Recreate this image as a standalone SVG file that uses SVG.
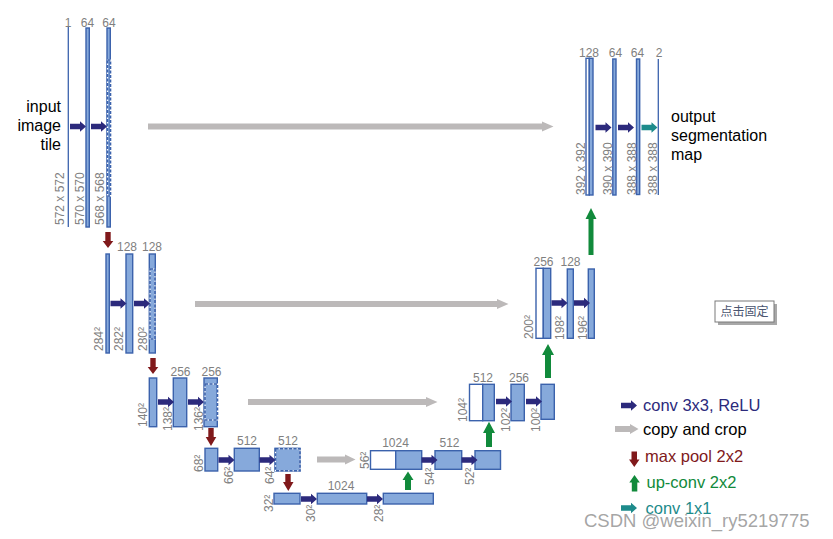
<svg xmlns="http://www.w3.org/2000/svg" xmlns:xlink="http://www.w3.org/1999/xlink" width="833" height="539" viewBox="0 0 833 539">
<style>
.bar{fill:#86a9db;stroke:#3b62ac;stroke-width:1.4}
.wbar{fill:#ffffff;stroke:#3b62ac;stroke-width:1.4}
.thin{stroke:#3b62ac;stroke-width:1.3;fill:none}
.dash{fill:none;stroke:#3b62ac;stroke-width:1.6;stroke-dasharray:3 1.5}
.dashbg{fill:none;stroke:#ffffff;stroke-width:1}
.lbl{font-family:"Liberation Sans",Arial,sans-serif;font-size:12px;fill:#808080;text-anchor:middle}
.rot{font-family:"Liberation Sans",Arial,sans-serif;font-size:12px;fill:#808080}
.big{font-family:"Liberation Sans",Arial,sans-serif;font-size:16px;fill:#000}
.leg{font-family:"Liberation Sans",Arial,sans-serif;font-size:16.5px}
.conv{fill:#2c2a7c}
.copy{fill:#bcb9b9}
.pool{fill:#80191b}
.up{fill:#118a3b}
.c11{fill:#1d8b8b}
</style>
<defs>
<path id="convA" d="M0,-2.7H10V-5.3L16,0L10,5.3V2.7H0Z"/>
<path id="poolA" d="M-2.7,0H2.7V9H5.3L0,16L-5.3,9H-2.7Z"/>
</defs>
<rect width="833" height="539" fill="#ffffff"/>

<!-- Level 1 contracting -->
<g id="l1-input">
<line class="thin" x1="68.3" y1="26" x2="68.3" y2="227"/>
<text class="lbl" x="68" y="27">1</text>
<text class="rot" transform="translate(64,225) rotate(-90)">572 x 572</text>
<text class="big" x="61" y="112" text-anchor="end">input</text>
<text class="big" x="61" y="131" text-anchor="end">image</text>
<text class="big" x="61" y="150" text-anchor="end">tile</text>
</g>
<g id="l1-c1">
<rect class="bar" x="86" y="28" width="3.3" height="199"/>
<text class="lbl" x="87.5" y="27">64</text>
<text class="rot" transform="translate(83.5,225) rotate(-90)">570 x 570</text>
</g>
<g id="l1-c2">
<rect class="bar" x="107" y="28" width="3.3" height="199"/>
<rect class="dashbg" x="107.5" y="60" width="3" height="136"/>
<rect class="dash" x="107.5" y="60" width="3" height="136"/>
<text class="lbl" x="109" y="27">64</text>
<text class="rot" transform="translate(103.5,225) rotate(-90)">568 x 568</text>
</g>

<!-- Level 2 contracting -->
<g id="l2-p">
<rect class="bar" x="106" y="254" width="3.3" height="99"/>
<text class="rot" transform="translate(103,351) rotate(-90)">284²</text>
</g>
<g id="l2-c1">
<rect class="bar" x="126" y="254" width="6.7" height="99"/>
<text class="lbl" x="127" y="251">128</text>
<text class="rot" transform="translate(123,351) rotate(-90)">282²</text>
</g>
<g id="l2-c2">
<rect class="bar" x="149.3" y="254" width="6" height="99"/>
<rect class="dashbg" x="150" y="269" width="5" height="70"/>
<rect class="dash" x="150" y="269" width="5" height="70"/>
<text class="lbl" x="152" y="251">128</text>
<text class="rot" transform="translate(147,351) rotate(-90)">280²</text>
</g>

<!-- Level 3 contracting -->
<g id="l3-p">
<rect class="bar" x="149.3" y="378" width="7.4" height="48.7"/>
<text class="rot" transform="translate(147,427) rotate(-90)">140²</text>
</g>
<g id="l3-c1">
<rect class="bar" x="173.3" y="378" width="13.4" height="48.7"/>
<text class="lbl" x="180.5" y="376">256</text>
<text class="rot" transform="translate(172,431) rotate(-90)">138²</text>
</g>
<g id="l3-c2">
<rect class="bar" x="204" y="378" width="13.3" height="48.7"/>
<rect class="dashbg" x="205" y="384" width="12.5" height="36"/>
<rect class="dash" x="205" y="384" width="12.5" height="36"/>
<text class="lbl" x="211.5" y="376">256</text>
<text class="rot" transform="translate(203,431) rotate(-90)">136²</text>
</g>

<!-- Level 4 contracting -->
<g id="l4-p">
<rect class="bar" x="205" y="448.3" width="12.7" height="22.7"/>
<text class="rot" transform="translate(203,472) rotate(-90)">68²</text>
</g>
<g id="l4-c1">
<rect class="bar" x="234.3" y="448.3" width="25" height="22.7"/>
<text class="lbl" x="247" y="445">512</text>
<text class="rot" transform="translate(233,484) rotate(-90)">66²</text>
</g>
<g id="l4-c2">
<rect class="bar" x="275" y="448.3" width="25" height="22.7"/>
<rect class="dashbg" x="275.5" y="448.8" width="24.5" height="22"/>
<rect class="dash" x="275.5" y="448.8" width="24.5" height="22"/>
<text class="lbl" x="288" y="445">512</text>
<text class="rot" transform="translate(274,484) rotate(-90)">64²</text>
</g>

<!-- Bottom -->
<g id="l5-p">
<rect class="bar" x="274" y="493.3" width="26" height="10.7"/>
<text class="rot" transform="translate(273,512) rotate(-90)">32²</text>
</g>
<g id="l5-c1">
<rect class="bar" x="317.3" y="493.3" width="49.4" height="10.7"/>
<text class="lbl" x="341" y="490">1024</text>
<text class="rot" transform="translate(315,522) rotate(-90)">30²</text>
</g>
<g id="l5-c2">
<rect class="bar" x="383.3" y="493.3" width="50" height="10.7"/>
<text class="rot" transform="translate(383,522) rotate(-90)">28²</text>
</g>

<!-- Level 4 expanding -->
<g id="l4-u">
<rect class="wbar" x="370.5" y="450.7" width="25.2" height="18.6"/>
<rect class="bar" x="395.7" y="450.7" width="26" height="18.6"/>
<text class="lbl" x="395.5" y="446.5">1024</text>
<text class="rot" transform="translate(369,469) rotate(-90)">56²</text>
</g>
<g id="l4-e1">
<rect class="bar" x="435" y="450.7" width="26.7" height="18.6"/>
<text class="lbl" x="449.5" y="446.5">512</text>
<text class="rot" transform="translate(434,485) rotate(-90)">54²</text>
</g>
<g id="l4-e2">
<rect class="bar" x="475" y="450.7" width="25.5" height="18.6"/>
<text class="rot" transform="translate(474,485) rotate(-90)">52²</text>
</g>

<!-- Level 3 expanding -->
<g id="l3-u">
<rect class="wbar" x="469.5" y="384.3" width="13.2" height="36.4"/>
<rect class="bar" x="482.7" y="384.3" width="11.6" height="36.4"/>
<text class="lbl" x="483" y="381.5">512</text>
<text class="rot" transform="translate(467,422) rotate(-90)">104²</text>
</g>
<g id="l3-e1">
<rect class="bar" x="511" y="384.3" width="13.3" height="36.4"/>
<text class="lbl" x="519" y="381.5">256</text>
<text class="rot" transform="translate(510,432) rotate(-90)">102²</text>
</g>
<g id="l3-e2">
<rect class="bar" x="541" y="384.3" width="13.3" height="35"/>
<text class="rot" transform="translate(540,432) rotate(-90)">100²</text>
</g>

<!-- Level 2 expanding -->
<g id="l2-u">
<rect class="wbar" x="536" y="268.3" width="7.3" height="70"/>
<rect class="bar" x="543.3" y="268.3" width="7.4" height="70"/>
<text class="lbl" x="543.5" y="266">256</text>
<text class="rot" transform="translate(533,339) rotate(-90)">200²</text>
</g>
<g id="l2-e1">
<rect class="bar" x="567.3" y="269" width="6" height="69.3"/>
<text class="lbl" x="570.5" y="266">128</text>
<text class="rot" transform="translate(564,340) rotate(-90)">198²</text>
</g>
<g id="l2-e2">
<rect class="bar" x="588.3" y="269" width="6" height="69.3"/>
<text class="rot" transform="translate(587,340) rotate(-90)">196²</text>
</g>

<!-- Level 1 expanding -->
<g id="l1-u">
<rect class="wbar" x="586" y="58.3" width="3.3" height="136.7"/>
<rect class="bar" x="589.3" y="58.3" width="3.7" height="136.7"/>
<text class="lbl" x="589" y="56.5">128</text>
<text class="rot" transform="translate(585,195) rotate(-90)">392 x 392</text>
</g>
<g id="l1-e1">
<rect class="bar" x="612.8" y="59" width="3.2" height="136"/>
<text class="lbl" x="615.5" y="56.5">64</text>
<text class="rot" transform="translate(611.5,195) rotate(-90)">390 x 390</text>
</g>
<g id="l1-e2">
<rect class="bar" x="636.5" y="59" width="3.2" height="135.5"/>
<text class="lbl" x="637.5" y="56.5">64</text>
<text class="rot" transform="translate(636,195) rotate(-90)">388 x 388</text>
</g>
<g id="l1-out">
<line class="thin" x1="658.3" y1="59" x2="658.3" y2="195"/>
<text class="lbl" x="659" y="56.5">2</text>
<text class="rot" transform="translate(657,195) rotate(-90)">388 x 388</text>
<text class="big" x="671" y="122">output</text>
<text class="big" x="671" y="141">segmentation</text>
<text class="big" x="671" y="160">map</text>
</g>

<!-- Connectors -->
<g id="connectors">
<!-- conv 3x3 -->
<use href="#convA" class="conv" x="70" y="126.5"/>
<use href="#convA" class="conv" x="91" y="126.5"/>
<use href="#convA" class="conv" x="110.5" y="303.5"/>
<use href="#convA" class="conv" x="134" y="303.5"/>
<use href="#convA" class="conv" x="158" y="402"/>
<use href="#convA" class="conv" x="188" y="402"/>
<use href="#convA" class="conv" x="218.5" y="460"/>
<use href="#convA" class="conv" x="259.5" y="460"/>
<use href="#convA" class="conv" x="301" y="499"/>
<use href="#convA" class="conv" x="367" y="499"/>
<use href="#convA" class="conv" x="421.5" y="460"/>
<use href="#convA" class="conv" x="461.5" y="460"/>
<use href="#convA" class="conv" x="496" y="401.5"/>
<use href="#convA" class="conv" x="526" y="401.5"/>
<use href="#convA" class="conv" x="551.5" y="303"/>
<use href="#convA" class="conv" x="574" y="303"/>
<use href="#convA" class="conv" x="595.5" y="127.5"/>
<use href="#convA" class="conv" x="618" y="127.5"/>
<!-- conv 1x1 -->
<use href="#convA" class="c11" x="641.5" y="127.5"/>
<!-- copy and crop -->
<path class="copy" d="M148,123.5H542V121.5L553.5,126.5L542,131.5V129.5H148Z"/>
<path class="copy" d="M195,301H497V299L508.5,304L497,309V307H195Z"/>
<path class="copy" d="M248,399H426V397L437.5,402L426,407V405H248Z"/>
<path class="copy" d="M317,456.5H345V454.5L355.5,459.5L345,464.5V462.5H317Z"/>
<!-- max pool -->
<use href="#poolA" class="pool" x="108" y="232"/>
<use href="#poolA" class="pool" x="153" y="358"/>
<path class="pool" d="M208.3,428H213.7V437H216.3L211,446L205.7,437H208.3Z"/>
<path class="pool" d="M285.3,474H290.7V482H293.5L288.3,491L283,482H285.3Z"/>
<!-- up-conv -->
<path class="up" d="M405,490V480H402.5L408,471.5L413.5,480H411V490Z"/>
<path class="up" d="M486,447V433H483L489,421.7L495,433H492V447Z"/>
<path class="up" d="M545,378V355H542L548,344L554,355H551V378Z"/>
<path class="up" d="M588.5,255V219H585.5L591,208L596.5,219H593.5V255Z"/>
</g>

<!-- Legend -->
<g id="legend">
<use href="#convA" class="conv" x="621" y="405.5"/>
<text class="leg" x="643" y="411" style="fill:#2c2a7c">conv 3x3, ReLU</text>
<path class="copy" d="M615,426H630V424L638.5,429L630,434V432H615Z"/>
<text class="leg" x="643" y="434.5" style="fill:#000000">copy and crop</text>
<path class="pool" d="M631.5,451.5H637V459.5H639.5L634.3,467L629,459.5H631.5Z"/>
<text class="leg" x="645" y="462" style="fill:#80191b">max pool 2x2</text>
<path class="up" d="M631.8,491.5V482.5H629.3L634.5,475L639.8,482.5H637.3V491.5Z"/>
<text class="leg" x="646.5" y="488" style="fill:#118a3b">up-conv 2x2</text>
<use href="#convA" class="c11" x="621" y="508"/>
<text class="leg" x="645.5" y="514" style="fill:#1d8b8b">conv 1x1</text>
</g>

<!-- Pin button -->
<g id="pin-button">
<rect x="718" y="304" width="59" height="21" fill="#a8a8a8"/>
<rect x="715" y="301" width="59" height="21" fill="#ffffff" stroke="#7a7a7a" stroke-width="1"/>
<text x="744.5" y="316" text-anchor="middle" style="font-family:'Noto Sans CJK SC',sans-serif;font-size:12px;fill:#4a5570">点击固定</text>
</g>

<!-- Watermark -->
<text x="584" y="526.5" style="font-family:'Liberation Sans',Arial,sans-serif;font-size:18.5px;fill:#9a9a9a;fill-opacity:0.9">CSDN @weixin_ry5219775</text>
</svg>
